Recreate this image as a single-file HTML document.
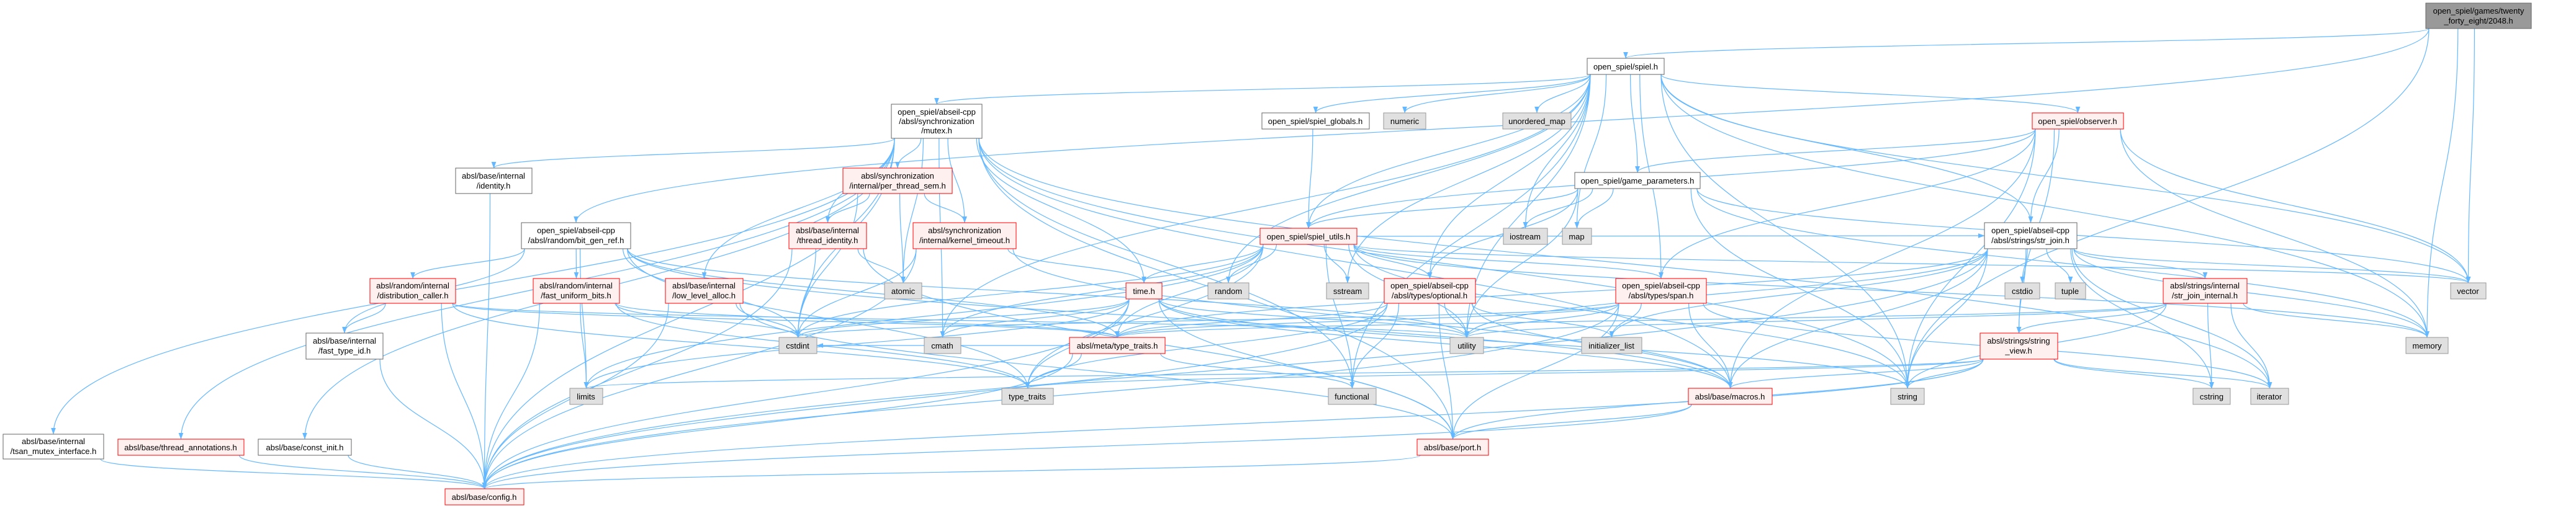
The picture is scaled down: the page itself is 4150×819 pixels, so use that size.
<!DOCTYPE html>
<html><head><meta charset="utf-8"><style>
html,body{margin:0;padding:0;background:#fff;}
svg{display:block;}
text{font-family:"Liberation Sans",sans-serif;font-size:13px;fill:#000;}
</style></head><body>
<svg id="s" width="4150" height="819" viewBox="0 0 4150 819" xmlns="http://www.w3.org/2000/svg">
<defs><marker id="a" markerWidth="11" markerHeight="8" refX="10" refY="3.8" orient="auto" markerUnits="userSpaceOnUse"><path d="M0,0 L10.5,3.8 L0,7.6 z" fill="#63b8ff"/></marker></defs>
<g id="edges" fill="none" stroke="#63b8ff" stroke-width="1.2"></g>
<g id="nodes">
<g id="n2048"><rect x="3908" y="5" width="170" height="41" fill="#999" stroke="#666"/><text x="3993" y="22" text-anchor="middle">open_spiel/games/twenty</text><text x="3993" y="38" text-anchor="middle">_forty_eight/2048.h</text></g>
<g id="spiel"><rect x="2557" y="94" width="124" height="26" fill="#fff" stroke="#666"/><text x="2619" y="112" text-anchor="middle">open_spiel/spiel.h</text></g>
<g id="mutex"><rect x="1436" y="168" width="146" height="55" fill="#fff" stroke="#666"/><text x="1509" y="185" text-anchor="middle">open_spiel/abseil-cpp</text><text x="1509" y="200" text-anchor="middle">/absl/synchronization</text><text x="1509" y="215" text-anchor="middle">/mutex.h</text></g>
<g id="identity"><rect x="734" y="271" width="123" height="41" fill="#fff" stroke="#666"/><text x="795" y="288" text-anchor="middle">absl/base/internal</text><text x="795" y="304" text-anchor="middle">/identity.h</text></g>
<g id="pts"><rect x="1358" y="271" width="176" height="41" fill="#fff0f0" stroke="#f00"/><text x="1446" y="288" text-anchor="middle">absl/synchronization</text><text x="1446" y="304" text-anchor="middle">/internal/per_thread_sem.h</text></g>
<g id="bitgen"><rect x="840" y="359" width="176" height="42" fill="#fff" stroke="#666"/><text x="928" y="376" text-anchor="middle">open_spiel/abseil-cpp</text><text x="928" y="392" text-anchor="middle">/absl/random/bit_gen_ref.h</text></g>
<g id="thrid"><rect x="1271" y="359" width="125" height="42" fill="#fff0f0" stroke="#f00"/><text x="1333" y="376" text-anchor="middle">absl/base/internal</text><text x="1333" y="392" text-anchor="middle">/thread_identity.h</text></g>
<g id="kt"><rect x="1471" y="359" width="166" height="42" fill="#fff0f0" stroke="#f00"/><text x="1554" y="376" text-anchor="middle">absl/synchronization</text><text x="1554" y="392" text-anchor="middle">/internal/kernel_timeout.h</text></g>
<g id="spglob"><rect x="2033" y="182" width="173" height="26" fill="#fff" stroke="#666"/><text x="2119" y="200" text-anchor="middle">open_spiel/spiel_globals.h</text></g>
<g id="numeric"><rect x="2229" y="182" width="68" height="26" fill="#e0e0e0" stroke="#999"/><text x="2263" y="200" text-anchor="middle">numeric</text></g>
<g id="umap"><rect x="2421" y="182" width="110" height="26" fill="#e0e0e0" stroke="#999"/><text x="2476" y="200" text-anchor="middle">unordered_map</text></g>
<g id="obs"><rect x="3274" y="182" width="147" height="26" fill="#fff0f0" stroke="#f00"/><text x="3347" y="200" text-anchor="middle">open_spiel/observer.h</text></g>
<g id="gp"><rect x="2537" y="278" width="202" height="26" fill="#fff" stroke="#666"/><text x="2638" y="296" text-anchor="middle">open_spiel/game_parameters.h</text></g>
<g id="su"><rect x="2030" y="368" width="156" height="26" fill="#fff0f0" stroke="#f00"/><text x="2108" y="386" text-anchor="middle">open_spiel/spiel_utils.h</text></g>
<g id="iostream"><rect x="2422" y="368" width="71" height="26" fill="#e0e0e0" stroke="#999"/><text x="2457" y="386" text-anchor="middle">iostream</text></g>
<g id="map"><rect x="2517" y="368" width="47" height="26" fill="#e0e0e0" stroke="#999"/><text x="2540" y="386" text-anchor="middle">map</text></g>
<g id="strjoin"><rect x="3197" y="359" width="149" height="42" fill="#fff" stroke="#666"/><text x="3271" y="376" text-anchor="middle">open_spiel/abseil-cpp</text><text x="3271" y="392" text-anchor="middle">/absl/strings/str_join.h</text></g>
<g id="distcaller"><rect x="596" y="449" width="138" height="40" fill="#fff0f0" stroke="#f00"/><text x="665" y="465" text-anchor="middle">absl/random/internal</text><text x="665" y="481" text-anchor="middle">/distribution_caller.h</text></g>
<g id="fub"><rect x="859" y="449" width="139" height="40" fill="#fff0f0" stroke="#f00"/><text x="928" y="465" text-anchor="middle">absl/random/internal</text><text x="928" y="481" text-anchor="middle">/fast_uniform_bits.h</text></g>
<g id="lla"><rect x="1072" y="449" width="125" height="40" fill="#fff0f0" stroke="#f00"/><text x="1134" y="465" text-anchor="middle">absl/base/internal</text><text x="1134" y="481" text-anchor="middle">/low_level_alloc.h</text></g>
<g id="atomic"><rect x="1425" y="456" width="60" height="26" fill="#e0e0e0" stroke="#999"/><text x="1455" y="474" text-anchor="middle">atomic</text></g>
<g id="time"><rect x="1814" y="456" width="58" height="26" fill="#fff0f0" stroke="#f00"/><text x="1843" y="474" text-anchor="middle">time.h</text></g>
<g id="random"><rect x="1946" y="456" width="66" height="26" fill="#e0e0e0" stroke="#999"/><text x="1979" y="474" text-anchor="middle">random</text></g>
<g id="sstream"><rect x="2137" y="456" width="68" height="26" fill="#e0e0e0" stroke="#999"/><text x="2171" y="474" text-anchor="middle">sstream</text></g>
<g id="optional"><rect x="2230" y="449" width="147" height="40" fill="#fff0f0" stroke="#f00"/><text x="2303" y="465" text-anchor="middle">open_spiel/abseil-cpp</text><text x="2303" y="481" text-anchor="middle">/absl/types/optional.h</text></g>
<g id="span"><rect x="2603" y="449" width="146" height="40" fill="#fff0f0" stroke="#f00"/><text x="2676" y="465" text-anchor="middle">open_spiel/abseil-cpp</text><text x="2676" y="481" text-anchor="middle">/absl/types/span.h</text></g>
<g id="cstdio"><rect x="3230" y="456" width="56" height="26" fill="#e0e0e0" stroke="#999"/><text x="3258" y="474" text-anchor="middle">cstdio</text></g>
<g id="tuple"><rect x="3311" y="456" width="49" height="26" fill="#e0e0e0" stroke="#999"/><text x="3335" y="474" text-anchor="middle">tuple</text></g>
<g id="sji"><rect x="3485" y="449" width="135" height="40" fill="#fff0f0" stroke="#f00"/><text x="3552" y="465" text-anchor="middle">absl/strings/internal</text><text x="3552" y="481" text-anchor="middle">/str_join_internal.h</text></g>
<g id="vector"><rect x="3948" y="456" width="57" height="26" fill="#e0e0e0" stroke="#999"/><text x="3976" y="474" text-anchor="middle">vector</text></g>
<g id="ftid"><rect x="493" y="537" width="124" height="42" fill="#fff" stroke="#666"/><text x="555" y="554" text-anchor="middle">absl/base/internal</text><text x="555" y="570" text-anchor="middle">/fast_type_id.h</text></g>
<g id="cstdint"><rect x="1255" y="544" width="61" height="26" fill="#e0e0e0" stroke="#999"/><text x="1285" y="562" text-anchor="middle">cstdint</text></g>
<g id="cmath"><rect x="1489" y="544" width="59" height="26" fill="#e0e0e0" stroke="#999"/><text x="1518" y="562" text-anchor="middle">cmath</text></g>
<g id="meta"><rect x="1723" y="544" width="154" height="26" fill="#fff0f0" stroke="#f00"/><text x="1800" y="562" text-anchor="middle">absl/meta/type_traits.h</text></g>
<g id="utility"><rect x="2336" y="544" width="54" height="26" fill="#e0e0e0" stroke="#999"/><text x="2363" y="562" text-anchor="middle">utility</text></g>
<g id="initlist"><rect x="2548" y="544" width="97" height="26" fill="#e0e0e0" stroke="#999"/><text x="2596" y="562" text-anchor="middle">initializer_list</text></g>
<g id="sv"><rect x="3190" y="537" width="125" height="42" fill="#fff0f0" stroke="#f00"/><text x="3252" y="554" text-anchor="middle">absl/strings/string</text><text x="3252" y="570" text-anchor="middle">_view.h</text></g>
<g id="memory"><rect x="3876" y="544" width="68" height="26" fill="#e0e0e0" stroke="#999"/><text x="3910" y="562" text-anchor="middle">memory</text></g>
<g id="limits"><rect x="918" y="626" width="53" height="26" fill="#e0e0e0" stroke="#999"/><text x="944" y="644" text-anchor="middle">limits</text></g>
<g id="tt"><rect x="1614" y="626" width="83" height="26" fill="#e0e0e0" stroke="#999"/><text x="1655" y="644" text-anchor="middle">type_traits</text></g>
<g id="functional"><rect x="2140" y="626" width="77" height="26" fill="#e0e0e0" stroke="#999"/><text x="2178" y="644" text-anchor="middle">functional</text></g>
<g id="macros"><rect x="2720" y="626" width="135" height="26" fill="#fff0f0" stroke="#f00"/><text x="2787" y="644" text-anchor="middle">absl/base/macros.h</text></g>
<g id="string"><rect x="3046" y="626" width="54" height="26" fill="#e0e0e0" stroke="#999"/><text x="3073" y="644" text-anchor="middle">string</text></g>
<g id="cstring"><rect x="3533" y="626" width="60" height="26" fill="#e0e0e0" stroke="#999"/><text x="3563" y="644" text-anchor="middle">cstring</text></g>
<g id="iterator"><rect x="3626" y="626" width="61" height="26" fill="#e0e0e0" stroke="#999"/><text x="3656" y="644" text-anchor="middle">iterator</text></g>
<g id="tsan"><rect x="5" y="700" width="162" height="40" fill="#fff" stroke="#666"/><text x="86" y="716" text-anchor="middle">absl/base/internal</text><text x="86" y="732" text-anchor="middle">/tsan_mutex_interface.h</text></g>
<g id="ta"><rect x="190" y="708" width="203" height="26" fill="#fff0f0" stroke="#f00"/><text x="291" y="726" text-anchor="middle">absl/base/thread_annotations.h</text></g>
<g id="ci"><rect x="416" y="708" width="150" height="26" fill="#fff" stroke="#666"/><text x="491" y="726" text-anchor="middle">absl/base/const_init.h</text></g>
<g id="port"><rect x="2283" y="708" width="115" height="26" fill="#fff0f0" stroke="#f00"/><text x="2340" y="726" text-anchor="middle">absl/base/port.h</text></g>
<g id="config"><rect x="717" y="788" width="127" height="26" fill="#fff0f0" stroke="#f00"/><text x="780" y="806" text-anchor="middle">absl/base/config.h</text></g>
</g>
</svg>
<script>
var E={
n2048:"spiel bitgen vector memory string",
spiel:"mutex spglob numeric umap gp su iostream map obs strjoin optional span random sstream cmath functional utility string vector memory",
mutex:"identity pts thrid kt lla tsan ta ci config atomic cstdint time port macros cmath string iterator functional",
pts:"thrid kt atomic cstdint",
thrid:"cstdint atomic config port",
kt:"time cstdint config macros",
identity:"config",
bitgen:"distcaller fub ftid limits tt utility cstdint meta macros",
distcaller:"ftid config meta utility tt",
fub:"cstdint limits config meta tt",
lla:"cstdint config port",
ftid:"config",tsan:"config",ta:"config",ci:"config",
time:"cmath cstdint limits tt utility string port macros config",
spglob:"su",
gp:"su iostream map optional utility string vector memory",
su:"time random sstream optional span strjoin cstdint cmath tt functional utility string vector memory limits meta",
optional:"meta utility functional tt initlist config macros port",
span:"meta utility initlist macros port iterator config cstdint",
meta:"tt functional config cstdint",
macros:"port config",port:"config",
obs:"su strjoin gp sv span vector memory string macros",
strjoin:"sji sv cstdio tuple string memory vector iterator cstring meta utility initlist config macros",
sji:"sv memory cstring iterator string utility meta",
sv:"string cstring iterator limits config port macros tt"
};
function box(id){var r=document.querySelector('#'+id+' rect');return{x:+r.getAttribute('x'),y:+r.getAttribute('y'),w:+r.getAttribute('width'),h:+r.getAttribute('height')};}
var g=document.getElementById('edges'),ns="http://www.w3.org/2000/svg",d="";
for(var s in E){var a=box(s);E[s].split(' ').forEach(function(t,i){var b=box(t);var p;
var sx,sy,tx,ty;
if(b.y>a.y+a.h+5){sx=a.x+a.w/2+(b.x+b.w/2-(a.x+a.w/2))*Math.min(0.4,a.w/2/Math.max(1,Math.abs(b.x-a.x)+1));sx=Math.max(a.x+5,Math.min(a.x+a.w-5,sx));sy=a.y+a.h;tx=b.x+b.w/2;ty=b.y;
var my=(sy+ty)/2;p="M"+sx+","+sy+" C"+sx+","+my+" "+tx+","+my+" "+tx+","+ty;}
else{sy=a.y+a.h/2;ty=b.y+b.h/2;if(b.x>a.x){sx=a.x+a.w;tx=b.x;}else{sx=a.x;tx=b.x+b.w;}var mx=(sx+tx)/2;p="M"+sx+","+sy+" C"+mx+","+sy+" "+mx+","+ty+" "+tx+","+ty;}
var e=document.createElementNS(ns,'path');e.setAttribute('d',p);e.setAttribute('marker-end','url(#a)');g.appendChild(e);});}
</script>
</body></html>
